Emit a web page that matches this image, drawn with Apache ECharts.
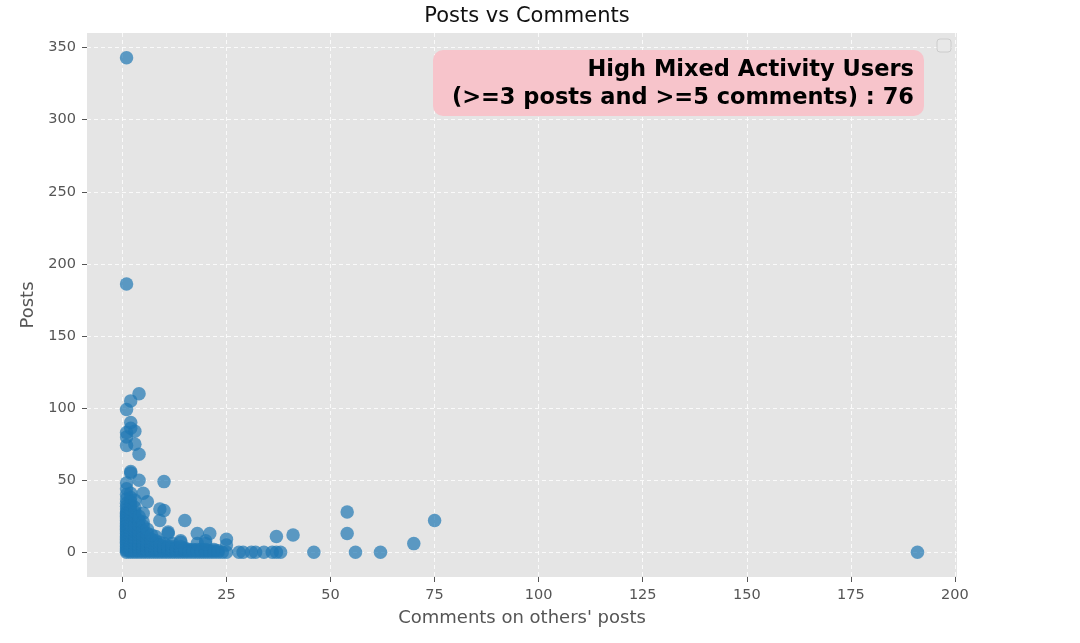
<!DOCTYPE html>
<html>
<head>
<meta charset="utf-8">
<script src="https://cdn.jsdelivr.net/npm/echarts@6/dist/echarts.min.js"></script>
<style>html,body{margin:0;padding:0;background:#fff}#c{width:1080px;height:643px}</style>
</head>
<body>
<div id="c"></div>
<script>
const titleText = 'Posts vs Comments';
const xLabel = "Comments on others' posts";
const yLabel = 'Posts';
const xTicks = [0, 25, 50, 75, 100, 125, 150, 175, 200];
const yTicks = [0, 50, 100, 150, 200, 250, 300, 350];
const annotationLines = ['High Mixed Activity Users', '(>=3 posts and >=5 comments) : 76'];

// [comments, posts] - scattered users
const outlierPoints = [
  [1,343],[1,186],[4,110],[2,105],[1,99],[2,90],[2,86],[1,83],[3,84],[1,80],[1,74],[3,75],[4,68],
  [2,56],[2,55],[10,49],[4,50],[1,48],[1,44],[2,41],[5,41],[3,36],[6,35],[9,30],[10,29],[5,27],
  [9,22],[15,22],[11,14],[11,13],[18,13],[7,12],[14,8],[14,7],[18,6],[20,8],[20,6],[21,13],[25,9],[25,5],
  [37,11],[41,12],[54,28],[54,13],[75,22],[70,6],[46,0],[56,0],[62,0],[191,0]
];
// [comments, posts] - users with zero/low posts along the bottom row
const bottomRowPoints = [
  [16,0],[17,0],[18,0],[19,0],[20,0],[21,0],[22,0],[23,0],[25,0],[28,0],[29,0],[31,0],[32,0],
  [34,0],[36,0],[37,0],[38,0]
];
// [comments, posts] - dense cluster of low-activity users
const clusterPoints = [
  [1,0],[1,1],[1,2],[1,3],[1,4],[1,5],[1,6],[1,7],[1,8],[1,9],[1,10],[1,11],[1,12],[1,13],[1,14],[1,15],
  [1,16],[1,17],[1,18],[1,19],[1,20],[1,21],[1,22],[1,23],[1,24],[1,25],[1,26],[1,27],[1,28],[1,30],[1,32],[1,34],[1,37],[1,40],
  [2,0],[2,1],[2,2],[2,3],[2,4],[2,5],[2,6],[2,7],[2,8],[2,9],[2,10],[2,11],[2,12],[2,13],[2,14],[2,15],
  [2,16],[2,17],[2,18],[2,19],[2,20],[2,22],[2,24],[2,26],[2,28],[2,30],[2,33],[2,35],[2,38],
  [3,0],[3,1],[3,2],[3,3],[3,4],[3,5],[3,6],[3,7],[3,8],[3,9],[3,10],[3,11],[3,12],[3,13],[3,14],[3,15],
  [3,16],[3,18],[3,20],[3,22],[3,25],[3,28],[3,31],
  [4,0],[4,1],[4,2],[4,3],[4,4],[4,5],[4,6],[4,7],[4,8],[4,9],[4,10],[4,12],[4,14],[4,16],[4,19],[4,22],[4,25],
  [5,0],[5,1],[5,2],[5,3],[5,4],[5,5],[5,6],[5,7],[5,8],[5,10],[5,12],[5,15],[5,18],[5,21],
  [6,0],[6,1],[6,2],[6,3],[6,4],[6,5],[6,6],[6,8],[6,10],[6,13],[6,16],
  [7,0],[7,1],[7,2],[7,3],[7,4],[7,5],[7,7],[7,9],
  [8,0],[8,1],[8,2],[8,3],[8,4],[8,6],[8,8],[8,11],
  [9,0],[9,1],[9,2],[9,3],[9,5],[9,7],
  [10,0],[10,1],[10,2],[10,3],[10,4],[10,6],
  [11,0],[11,1],[11,2],[11,3],[11,4],
  [12,0],[12,1],[12,2],[12,3],[12,4],[12,6],
  [13,0],[13,1],[13,2],[13,3],
  [14,0],[14,1],[14,2],[14,3],[14,4],
  [15,0],[15,1],[15,2],[15,3],
  [16,1],[16,2],[17,1],[17,2],[18,1],[18,2],[19,1],[19,2],[20,1],[20,2],[21,1],[22,1],[22,2],[23,1],[24,0]
];

const allPoints = clusterPoints.concat(bottomRowPoints, outlierPoints);

const chart = echarts.init(document.getElementById('c'), null, {renderer: 'canvas'});
const tickColor = '#555';
const fontFam = 'DejaVu Sans';

chart.setOption({
  backgroundColor: '#ffffff',
  animation: false,
  title: {
    text: titleText, left: 522, top: 1, textAlign: 'center',
    textStyle: {fontFamily: fontFam, fontSize: 21, fontWeight: 'normal', color: '#111'}
  },
  grid: {left: 87, right: 123, top: 33, bottom: 66, show: true, backgroundColor: '#e5e5e5', borderWidth: 0},
  xAxis: {
    type: 'value', min: -8.5, max: 200.5,
    name: xLabel, nameLocation: 'middle', nameGap: 32,
    nameTextStyle: {fontFamily: fontFam, fontSize: 18, color: tickColor},
    axisLine: {show: false, onZero: false},
    axisTick: {show: true, length: 5, lineStyle: {color: tickColor}, customValues: xTicks},
    axisLabel: {fontFamily: fontFam, fontSize: 14.5, color: tickColor, margin: 11, customValues: xTicks},
    splitLine: {show: true, lineStyle: {color: '#ffffff', type: [4, 3], width: 1, opacity: 0.8}}
  },
  yAxis: {
    type: 'value', min: -17.15, max: 360.15,
    name: yLabel, nameLocation: 'middle', nameGap: 47,
    nameTextStyle: {fontFamily: fontFam, fontSize: 18, color: tickColor},
    axisLine: {show: false, onZero: false},
    axisTick: {show: true, length: 5, lineStyle: {color: tickColor}, customValues: yTicks},
    axisLabel: {fontFamily: fontFam, fontSize: 14.5, color: tickColor, margin: 11, customValues: yTicks},
    splitLine: {show: true, lineStyle: {color: '#ffffff', type: [4, 3], width: 1, opacity: 0.8}}
  },
  series: [{
    type: 'scatter',
    data: allPoints,
    symbolSize: 13.5,
    itemStyle: {color: '#1f77b4', opacity: 0.7},
    silent: true
  }],
  graphic: [
    {type: 'rect', shape: {x: 433, y: 50, width: 491, height: 66, r: 10}, style: {fill: '#f7c4cb'}, z: 10},
    {type: 'text', z: 11, style: {
      text: annotationLines.join('\n'), x: 914, y: 56, align: 'right', verticalAlign: 'top',
      fontFamily: fontFam, fontSize: 22.5, fontWeight: 'bold', fill: '#000', lineHeight: 28
    }},
    {type: 'rect', shape: {x: 937, y: 39, width: 14, height: 13, r: 3}, style: {fill: '#e8e8e8', stroke: '#cccccc', lineWidth: 1}, z: 10}
  ]
});
</script>
</body>
</html>
